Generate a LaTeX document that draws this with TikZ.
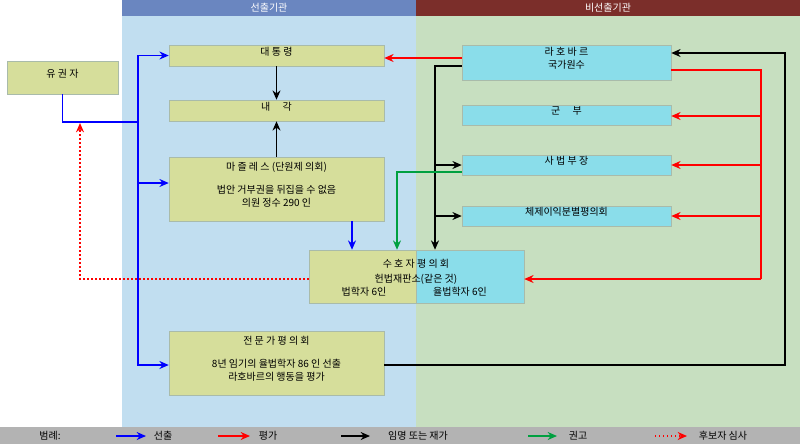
\documentclass[tikz,border=0pt]{standalone}
\usepackage{fontspec}
\setmainfont{Noto Sans CJK KR}
\usetikzlibrary{fit}
\usetikzlibrary{positioning, shapes, arrows.meta, calc}
\definecolor{ybox}{HTML}{D6DE9B}
\definecolor{cbox}{HTML}{8ADDEA}
\definecolor{bluebg}{HTML}{C1DEF0}
\definecolor{greenbg}{HTML}{C7DFC0}
\definecolor{bluehead}{HTML}{6A86C0}
\definecolor{redhead}{HTML}{7B2E2A}
\definecolor{edge}{HTML}{A9BBAA}
\definecolor{legendbg}{HTML}{B3B3B3}
\definecolor{grn}{HTML}{00A040}
\tikzset{
  ybox/.style={draw=edge, fill=ybox, inner sep=0pt, align=center, font=\fontsize{7.5}{9.5}\selectfont},
  cbox/.style={draw=edge, fill=cbox, inner sep=0pt, align=center, font=\fontsize{7.5}{9.5}\selectfont},
  sel/.style={blue, line width=1pt, -{Stealth[length=7pt,width=6pt]}},
  eval/.style={red, line width=1pt, -{Stealth[length=7pt,width=6pt]}},
  appt/.style={black, line width=1pt, -{Stealth[length=7pt,width=6pt]}},
  adv/.style={grn, line width=1pt, -{Stealth[length=7pt,width=6pt]}},
  rev/.style={red, line width=1pt, dotted, -{Stealth[length=7pt,width=6pt]}},
  small/.style={font=\fontsize{7.5}{9}\selectfont}
}
\begin{document}
\begin{tikzpicture}[x=0.75pt, y=-0.75pt]
                  \useasboundingbox (0,0) rectangle (800,444);
                  % Background
                  \fill[bluebg] (122,0) rectangle (416,427);
                  \fill[greenbg] (416,0) rectangle (800,427);
                  \fill[bluehead] (122,0) rectangle (416,16);
                  \fill[redhead] (416,0) rectangle (800,16);
                  \fill[legendbg] (0,427) rectangle (800,444);
                  \node[small, white] (headA) at (269,8) {선출기관};
                  \node[small, white] (headB) at (608,8) {비선출기관};

                  % Elected
                  \node[ybox, fit={(7,61) (118,94)}] (voter) {유 권 자};
                  \node[ybox, fit={(169,45) (384,66)}] (pres) {대 통 령};
                  \node[ybox, fit={(169,100) (384,121)}] (cab) {내 \quad 각};
                  \node[ybox, fit={(169,157) (384,221)}] (majlis) {마 즐 레 스 (단원제 의회)\\[8pt]법안 거부권을 뒤집을 수 없음\\의원 정수 290 인};
                  \node[ybox, fit={(169,331) (384,395)}] (expert) {전 문 가 평 의 회\\[8pt]8년 임기의 율법학자 86 인 선출\\라호바르의 행동을 평가};

                  % Guardian council
                  \fill[ybox] (309,250) rectangle (416,303);
                  \fill[cbox] (416,250) rectangle (524,303);
                  \node[draw=edge, inner sep=0pt, fit={(309,250) (524,303)}] (guard) {};
                  \node[small] (guardA) at (416,264) {수 호 자 평 의 회};
                  \node[small] (guardB) at (416,279) {헌법재판소(같은 것)};
                  \node[small] (guardC) at (364,292) {법학자 6인};
                  \node[small] (guardD) at (460,292) {율법학자 6인};

                  % Unelected
                  \node[cbox, fit={(462,45) (671,80)}] (leader) {라 호 바 르\\국가원수};
                  \node[cbox, fit={(462,105) (671,125)}] (army) {군 \quad 부};
                  \node[cbox, fit={(462,155) (671,175)}] (judge) {사 법 부 장};
                  \node[cbox, fit={(462,206) (671,226)}] (expd) {체제이익분별평의회};

                  % Arrows
                  \draw[blue, line width=1pt] (voter.south) |- (138,122);
                  \draw[sel] (138,122) |- (pres.west);
                  \draw[sel] (138,122) |- (majlis.west |- 0,183);
                  \draw[sel] (138,122) |- (expert.west |- 0,365);
                  \draw[sel] (majlis.south -| 352,0) -- (guard.north -| 352,0);

                  \draw[appt] (pres.south) -- (cab.north);
                  \draw[appt] (majlis.north) -- (cab.south);
                  \draw[appt] (leader.west |- 0,66) -| (guard.north -| 435,0);
                  \draw[appt] (435,165) -- (judge.west |- 0,165);
                  \draw[appt] (435,216) -- (expd.west |- 0,216);
                  \draw[appt] (expert.east |- 0,365) -| (785,53) -- (leader.east |- 0,53);

                  \draw[eval] (leader.west |- 0,58) -- (pres.east |- 0,58);
                  \draw[red, line width=1pt] (leader.east |- 0,70) -| (761,279);
                  \draw[eval] (761,116) -- (army.east |- 0,116);
                  \draw[eval] (761,165) -- (judge.east |- 0,165);
                  \draw[eval] (761,216) -- (expd.east |- 0,216);
                  \draw[eval] (761,279) -- (guard.east |- 0,279);

                  \draw[adv] (judge.west |- 0,172) -| (guard.north -| 397,0);
                  \draw[rev] (guard.west |- 0,279) -| (80,123);

                  % Legend
                  \node[small] (legend) at (50,436) {범례:};
                  \draw[sel] (116,436) -- (146,436);
                  \node[small] (legA) at (163,436) {선출};
                  \draw[eval] (218,436) -- (250,436);
                  \node[small] (legB) at (268,436) {평가};
                  \draw[appt] (341,436) -- (370,436);
                  \node[small] (legC) at (418,436) {임명 또는 재가};
                  \draw[adv] (528,436) -- (557,436);
                  \node[small] (legD) at (578,436) {권고};
                  \draw[rev] (655,436) -- (687,436);
                  \node[small] (legE) at (723,436) {후보자 심사};
\end{tikzpicture}
\end{document}
